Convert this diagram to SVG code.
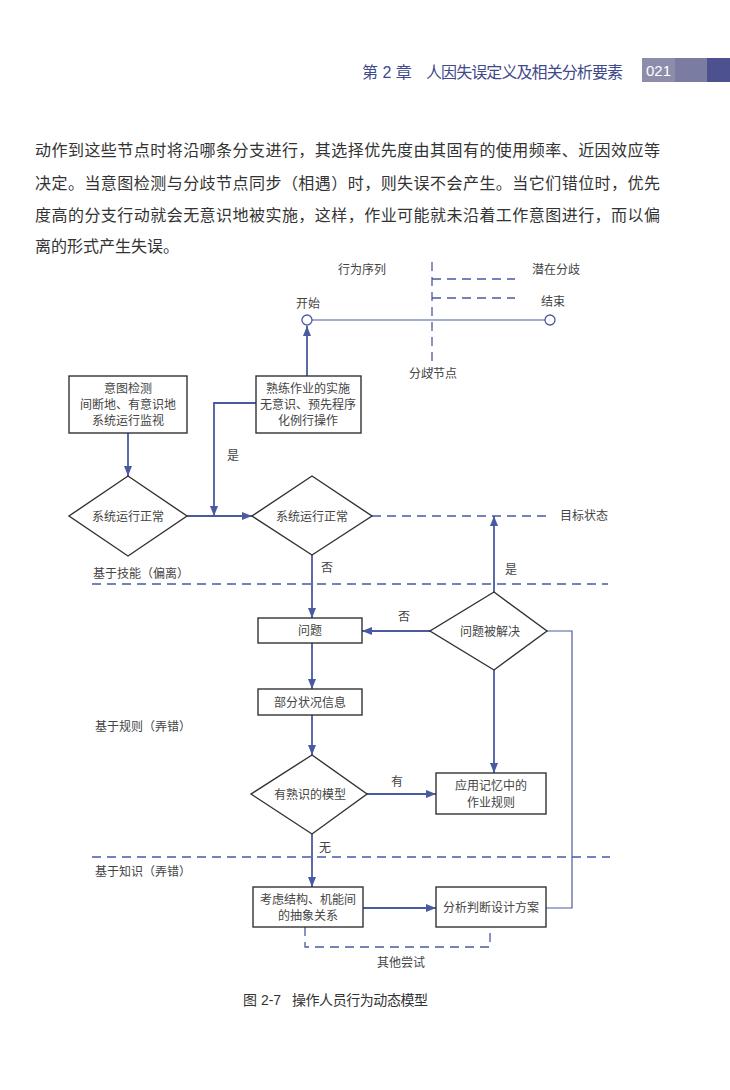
<svg xmlns="http://www.w3.org/2000/svg" width="730" height="1090" viewBox="0 0 730 1090">
<defs>
<style>
.t{font-family:"Liberation Serif","Noto Sans CJK SC",serif;fill:#444;font-size:12px;text-anchor:middle;dominant-baseline:central}
.lt{text-anchor:start}
.body{font-family:"Liberation Serif","Noto Sans CJK SC",serif;fill:#333;font-size:16px}
.hd{font-family:"Liberation Sans","Noto Sans CJK SC",sans-serif;fill:#3f4a8c;font-size:16px}
.box{fill:#fff;stroke:#333;stroke-width:1.4}
.ln{fill:none;stroke:#4a5aa0;stroke-width:1.8}
.thin{fill:none;stroke:#4a5aa0;stroke-width:1.2}
.dash{fill:none;stroke:#4a5aa0;stroke-width:1.3;stroke-dasharray:9,6}
</style>
<marker id="ah" viewBox="0 0 10 10" refX="10" refY="5" markerWidth="10" markerHeight="10" markerUnits="userSpaceOnUse" orient="auto">
<path d="M0,1 L10,5 L0,9 Z" fill="#4a5aa0"/>
</marker>
</defs>
<rect width="730" height="1090" fill="#fff"/>

<!-- header -->
<g id="header">
<text class="hd" x="362" y="78">第 2 章</text>
<text class="hd" x="426" y="78" textLength="197" lengthAdjust="spacing">人因失误定义及相关分析要素</text>
<rect x="642" y="58" width="33" height="24" fill="#8c8cab"/>
<rect x="675" y="58" width="32" height="24" fill="#7b7ca2"/>
<rect x="707" y="58" width="23" height="24" fill="#4d528e"/>
<text x="646" y="76" font-family="Liberation Sans, sans-serif" font-size="15" fill="#fff">021</text>
</g>

<!-- body text -->
<g id="paragraph">
<text class="body" x="35" y="156" textLength="625" lengthAdjust="spacing">动作到这些节点时将沿哪条分支进行，其选择优先度由其固有的使用频率、近因效应等</text>
<text class="body" x="35" y="189" textLength="625" lengthAdjust="spacing">决定。当意图检测与分歧节点同步（相遇）时，则失误不会产生。当它们错位时，优先</text>
<text class="body" x="35" y="221" textLength="625" lengthAdjust="spacing">度高的分支行动就会无意识地被实施，这样，作业可能就未沿着工作意图进行，而以偏</text>
<text class="body" x="35" y="252">离的形式产生失误。</text>
</g>

<!-- connectors -->
<g id="connectors">
<!-- behavior sequence -->
<line class="thin" x1="312" y1="320" x2="545" y2="320"/>
<line class="dash" x1="432" y1="262" x2="432" y2="372" stroke-dasharray="8,5"/>
<line class="dash" x1="432" y1="279" x2="515" y2="279"/>
<line class="dash" x1="432" y1="298" x2="515" y2="298"/>
<!-- skill box up to start -->
<line class="ln" x1="307" y1="376" x2="307" y2="326" marker-end="url(#ah)"/>
<!-- intent box to diamond1 -->
<line class="ln" x1="128" y1="433" x2="128" y2="476" marker-end="url(#ah)"/>
<!-- skill box left to joint -->
<polyline class="ln" points="256,403 214,403 214,516" marker-end="url(#ah)"/>
<!-- diamond1 to diamond2 -->
<line class="ln" x1="187" y1="516" x2="252" y2="516" marker-end="url(#ah)"/>
<!-- target state dashed -->
<line class="dash" x1="372" y1="516" x2="548" y2="516"/>
<!-- solved yes up -->
<line class="ln" x1="494" y1="592" x2="494" y2="516" marker-end="url(#ah)"/>
<!-- diamond2 no down -->
<line class="ln" x1="312" y1="555" x2="312" y2="618" marker-end="url(#ah)"/>
<!-- level separators -->
<line class="dash" x1="92" y1="584" x2="608" y2="584"/>
<line class="dash" x1="92" y1="857" x2="610" y2="857"/>
<!-- solved no to problem -->
<line class="ln" x1="430" y1="631" x2="362" y2="631" marker-end="url(#ah)"/>
<!-- solved right loop -->
<polyline class="thin" points="547,631 572,631 572,908 546,908"/>
<!-- solved down to rules -->
<line class="ln" x1="494" y1="670" x2="494" y2="773" marker-end="url(#ah)"/>
<!-- problem to partial info -->
<line class="ln" x1="312" y1="643" x2="312" y2="689" marker-end="url(#ah)"/>
<!-- partial info to diamond3 -->
<line class="ln" x1="312" y1="715" x2="312" y2="755" marker-end="url(#ah)"/>
<!-- diamond3 yes -->
<line class="ln" x1="367" y1="794" x2="436" y2="794" marker-end="url(#ah)"/>
<!-- diamond3 no -->
<line class="ln" x1="312" y1="834" x2="312" y2="887" marker-end="url(#ah)"/>
<!-- consider to analyse -->
<line class="ln" x1="363" y1="908" x2="436" y2="908" marker-end="url(#ah)"/>
<!-- other trials -->
<polyline class="dash" points="305,927 305,947 490,947 490,927" stroke-dasharray="7,5"/>
</g>

<!-- nodes -->
<g id="start">
<circle cx="307" cy="320" r="5" fill="#fff" stroke="#4a5aa0" stroke-width="1.3"/>
<text class="t" x="308" y="304">开始</text>
</g>
<g id="end">
<circle cx="550" cy="320" r="5" fill="#fff" stroke="#4a5aa0" stroke-width="1.3"/>
<text class="t" x="553" y="302">结束</text>
</g>
<g id="seq-labels">
<text class="t" x="362" y="270">行为序列</text>
<text class="t" x="556" y="270">潜在分歧</text>
<text class="t" x="433" y="374">分歧节点</text>
</g>

<g id="intent">
<rect class="box" x="69" y="376" width="118" height="57"/>
<text class="t" x="128" y="389">意图检测</text>
<text class="t" x="128" y="405">间断地、有意识地</text>
<text class="t" x="128" y="421">系统运行监视</text>
</g>
<g id="skill">
<rect class="box" x="256" y="376" width="105" height="57"/>
<text class="t" x="308" y="389">熟练作业的实施</text>
<text class="t" x="308" y="405">无意识、预先程序</text>
<text class="t" x="308" y="421">化例行操作</text>
</g>
<g id="diamond1">
<polygon class="box" points="128,476 187,516 128,556 69,516"/>
<text class="t" x="128" y="517">系统运行正常</text>
</g>
<g id="diamond2">
<polygon class="box" points="312,476 372,516 312,555 252,516"/>
<text class="t" x="312" y="517">系统运行正常</text>
</g>
<g id="problem">
<rect class="box" x="258" y="618" width="104" height="25"/>
<text class="t" x="310" y="631">问题</text>
</g>
<g id="solved">
<polygon class="box" points="494,592 547,631 494,670 430,631"/>
<text class="t" x="490" y="632">问题被解决</text>
</g>
<g id="partial">
<rect class="box" x="258" y="689" width="104" height="26"/>
<text class="t" x="310" y="703">部分状况信息</text>
</g>
<g id="diamond3">
<polygon class="box" points="312,755 367,794 312,834 251,794"/>
<text class="t" x="310" y="795">有熟识的模型</text>
</g>
<g id="rules">
<rect class="box" x="436" y="773" width="110" height="41"/>
<text class="t" x="491" y="786">应用记忆中的</text>
<text class="t" x="491" y="803">作业规则</text>
</g>
<g id="consider">
<rect class="box" x="253" y="887" width="110" height="40"/>
<text class="t" x="308" y="900">考虑结构、机能间</text>
<text class="t" x="308" y="916">的抽象关系</text>
</g>
<g id="analyse">
<rect class="box" x="436" y="887" width="110" height="40"/>
<text class="t" x="491" y="908">分析判断设计方案</text>
</g>

<g id="labels">
<text class="t" x="584" y="516">目标状态</text>
<text class="t" x="233" y="456">是</text>
<text class="t" x="511" y="570">是</text>
<text class="t" x="327" y="568">否</text>
<text class="t" x="404" y="617">否</text>
<text class="t" x="397" y="782">有</text>
<text class="t" x="325" y="848">无</text>
<text class="t" x="401" y="963">其他尝试</text>
<text class="t lt" x="93" y="574">基于技能（偏离）</text>
<text class="t lt" x="95" y="727">基于规则（弄错）</text>
<text class="t lt" x="95" y="872">基于知识（弄错）</text>
</g>

<g id="caption">
<text x="243" y="1005" font-family="Liberation Sans, 'Noto Sans CJK SC', sans-serif" font-size="14" fill="#333">图 2-7</text>
<text x="292" y="1005" font-family="Liberation Sans, 'Noto Sans CJK SC', sans-serif" font-size="14" fill="#333" textLength="136" lengthAdjust="spacing">操作人员行为动态模型</text>
</g>
</svg>
